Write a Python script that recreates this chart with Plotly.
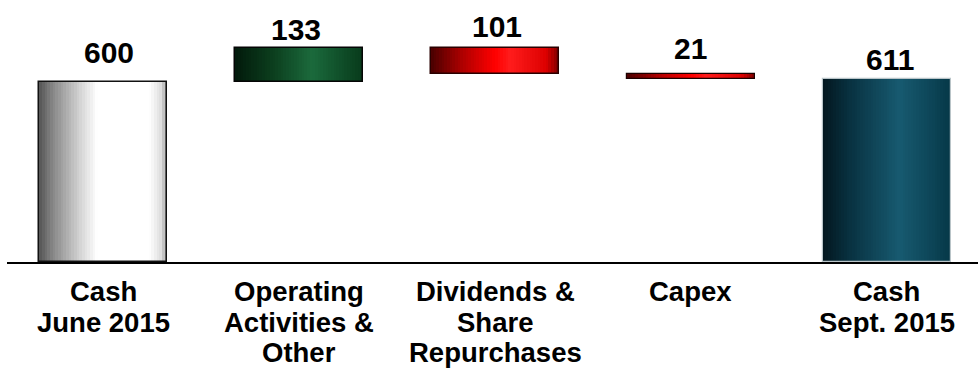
import plotly.graph_objects as go

# ---- data ----
categories = ["Cash\nJune 2015", "Operating\nActivities &\nOther",
              "Dividends &\nShare\nRepurchases", "Capex", "Cash\nSept. 2015"]
values = [600, 133, -101, -21, 611]
measures = ["total", "relative", "relative", "relative", "total"]
value_labels = ["600", "133", "101", "21", "611"]

# ---- style ----
Y_MIN, Y_MAX = -110, 923.6          # broken-axis look of the original
X_RANGE = [-0.4917, 4.466]
BAR_W = 0.6525
FONT = dict(family="Liberation Sans, Arial, sans-serif", color="black", weight="bold")
gradients = [
    [(0, "#555555"), (0.1, "#858585"), (0.3, "#cdcdcd"), (0.45, "#ffffff"),
     (0.86, "#ffffff"), (0.95, "#dedede"), (1, "#9a9a9a")],
    [(0, "#021a0b"), (0.3, "#0c3f1e"), (0.6, "#1b6a3c"), (1, "#073a1b")],
    [(0, "#4a0000"), (0.25, "#b00000"), (0.5, "#ff0000"), (0.62, "#ff1c1c"),
     (0.9, "#dd0000"), (1, "#7a0000")],
    [(0, "#4a0000"), (0.25, "#b00000"), (0.5, "#ff0000"), (0.62, "#ff1c1c"),
     (0.9, "#dd0000"), (1, "#7a0000")],
    [(0, "#03161e"), (0.2, "#08303f"), (0.6, "#175a70"), (1, "#063848")],
]
outline_colors = ["#111111", "#050505", "#2a0000", "#1a0000", "#b9c4c8"]
outline_widths = [1.5, 1.5, 1.5, 1.2, 1.2]
label_shift = [11, 0, 3, 7, 1]
label_xshift = [6, -3, 2, 0, 3]
line_centers = [291.5, 322.5, 352.5]  # pixel centers of category label lines


def hex2rgb(h):
    h = h.lstrip("#")
    return tuple(int(h[i:i + 2], 16) for i in (0, 2, 4))


def interp(stops, t):
    for (t0, c0), (t1, c1) in zip(stops[:-1], stops[1:]):
        if t0 <= t <= t1:
            f = (t - t0) / (t1 - t0) if t1 > t0 else 0
            a, b = hex2rgb(c0), hex2rgb(c1)
            return "rgb(%d,%d,%d)" % tuple(round(a[i] + (b[i] - a[i]) * f) for i in range(3))
    return stops[-1][1]


# waterfall geometry from the values
bases, heights, tops = [], [], []
running = 0
for v, m in zip(values, measures):
    if m == "total":
        bases.append(Y_MIN)
        heights.append(v - Y_MIN)
        running = v
        tops.append(v)
    else:
        lo, hi = sorted([running, running + v])
        bases.append(lo)
        heights.append(hi - lo)
        running += v
        tops.append(hi)

xs = list(range(len(categories)))
fig = go.Figure()

N = 48
step = BAR_W / N
for k in range(N):
    t = (k + 0.5) / N
    off = -BAR_W / 2 + k * step
    w = min(step * 1.8, BAR_W / 2 - off)
    fig.add_trace(go.Bar(
        x=xs, y=heights, base=bases, width=w, offset=off,
        marker=dict(color=[interp(g, t) for g in gradients], line=dict(width=0)),
        hoverinfo="skip", showlegend=False))

fig.add_trace(go.Bar(
    x=xs, y=heights, base=bases, width=BAR_W,
    marker=dict(color="rgba(0,0,0,0)",
                line=dict(color=outline_colors, width=outline_widths)),
    hoverinfo="skip", showlegend=False))

H = 368
PLOT_H = 262
annotations = []
for i, (lab, top) in enumerate(zip(value_labels, tops)):
    annotations.append(dict(x=i, y=top, xref="x", yref="y", text=lab, showarrow=False,
                            yanchor="bottom", yshift=label_shift[i], xshift=label_xshift[i],
                            font=dict(FONT, size=30)))
for i, cat in enumerate(categories):
    for j, line in enumerate(cat.split("\n")):
        yp = (PLOT_H - line_centers[j]) / PLOT_H
        annotations.append(dict(x=i, y=yp, xref="x", yref="paper", text=line,
                                showarrow=False, yanchor="middle", borderpad=0,
                                font=dict(FONT, size=27.5)))

fig.update_layout(
    width=978, height=H,
    margin=dict(l=7, r=0, t=0, b=H - PLOT_H),
    paper_bgcolor="white", plot_bgcolor="white",
    barmode="overlay", bargap=0,
    xaxis=dict(range=X_RANGE, showticklabels=False, ticks="", showgrid=False,
               zeroline=False, showline=True, linecolor="black", linewidth=2),
    yaxis=dict(range=[Y_MIN, Y_MAX], visible=False, showgrid=False, zeroline=False),
    annotations=annotations,
)

fig.write_html("out.html")
